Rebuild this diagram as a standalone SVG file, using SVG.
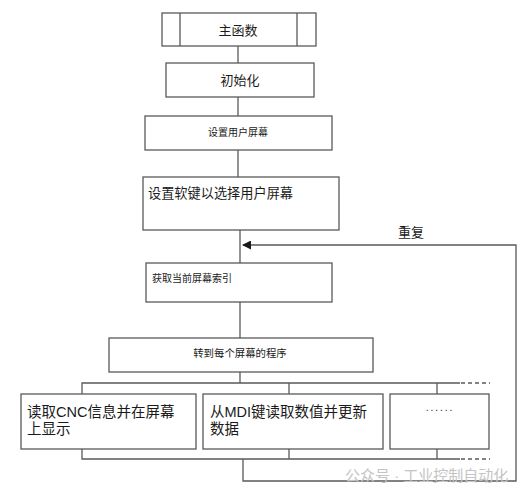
<svg xmlns="http://www.w3.org/2000/svg" width="532" height="495" viewBox="0 0 532 495">
<style>
.box{fill:#fff;stroke:#5a5a5a;stroke-width:1.3}
.ln{fill:none;stroke:#5a5a5a;stroke-width:1.3}
.dash{fill:none;stroke:#5a5a5a;stroke-width:1.3;stroke-dasharray:4 3}
text{font-family:"Liberation Sans","Noto Sans CJK SC",sans-serif;fill:#1a1a1a}
.c{text-anchor:middle}
.wm{fill:#c4c4c4;font-size:15px}
</style>
<defs>
<marker id="ah" markerWidth="9" markerHeight="9" refX="8" refY="4.5" orient="auto" markerUnits="userSpaceOnUse">
<path d="M0,0 L9,4.5 L0,9 Z" fill="#1a1a1a"/>
</marker>
</defs>
<rect width="532" height="495" fill="#fff"/>
<g id="connectors">
<path class="ln" d="M238,46 V63"/>
<path class="ln" d="M238,97 V116"/>
<path class="ln" d="M238,150 V177"/>
<path class="ln" d="M240,230 V263"/>
<path class="ln" d="M240,302 V338"/>
<path class="ln" d="M240,372 V383"/>
<path class="ln" d="M82,394 V383 H460"/>
<path class="dash" d="M461,383 H490"/>
<path class="ln" d="M289,383 V394"/>
<path class="ln" d="M437,383 V394"/>
<path class="ln" d="M82,449 V459 H460"/>
<path class="dash" d="M461,459 H490"/>
<path class="ln" d="M289,449 V459"/>
<path class="ln" d="M437,449 V459"/>
<path class="ln" d="M243,459 V481 H516 V245 H243" marker-end="url(#ah)"/>
<text x="398" y="237" style="font-size:13px">重复</text>
</g>
<g id="main">
<rect class="box" x="162" y="13" width="154" height="33"/>
<path class="ln" d="M180,13 V46 M297,13 V46"/>
<text class="c" x="238" y="35" style="font-size:13px">主函数</text>
</g>
<g id="init">
<rect class="box" x="166" y="63" width="148" height="34"/>
<text class="c" x="240" y="85" style="font-size:13px">初始化</text>
</g>
<g id="setscreen">
<rect class="box" x="145" y="116" width="187" height="34"/>
<text class="c" x="238" y="136" style="font-size:10px">设置用户屏幕</text>
</g>
<g id="softkey">
<rect class="box" x="143" y="177" width="196" height="53"/>
<text x="148" y="198" style="font-size:13.2px">设置软键以选择用户屏幕</text>
</g>
<g id="getindex">
<rect class="box" x="146" y="263" width="186" height="39"/>
<text x="152" y="282" style="font-size:10px">获取当前屏幕索引</text>
</g>
<g id="goto">
<rect class="box" x="109" y="338" width="264" height="34"/>
<text class="c" x="240" y="357" style="font-size:10.4px">转到每个屏幕的程序</text>
</g>
<g id="readcnc">
<rect class="box" x="21" y="394" width="175" height="55"/>
<text x="27" y="417" style="font-size:14.5px">读取CNC信息并在屏幕</text>
<text x="27" y="434" style="font-size:14.5px">上显示</text>
</g>
<g id="readmdi">
<rect class="box" x="203" y="394" width="180" height="55"/>
<text x="210" y="417" style="font-size:14.5px">从MDI键读取数值并更新</text>
<text x="210" y="434" style="font-size:14.5px">数据</text>
</g>
<g id="more">
<rect class="box" x="390" y="394" width="99" height="55"/>
<text class="c" x="440" y="411" style="font-size:10px;letter-spacing:2px">......</text>
</g>
<text class="wm" x="345" y="481">公众号 · 工业控制自动化</text>
</svg>
